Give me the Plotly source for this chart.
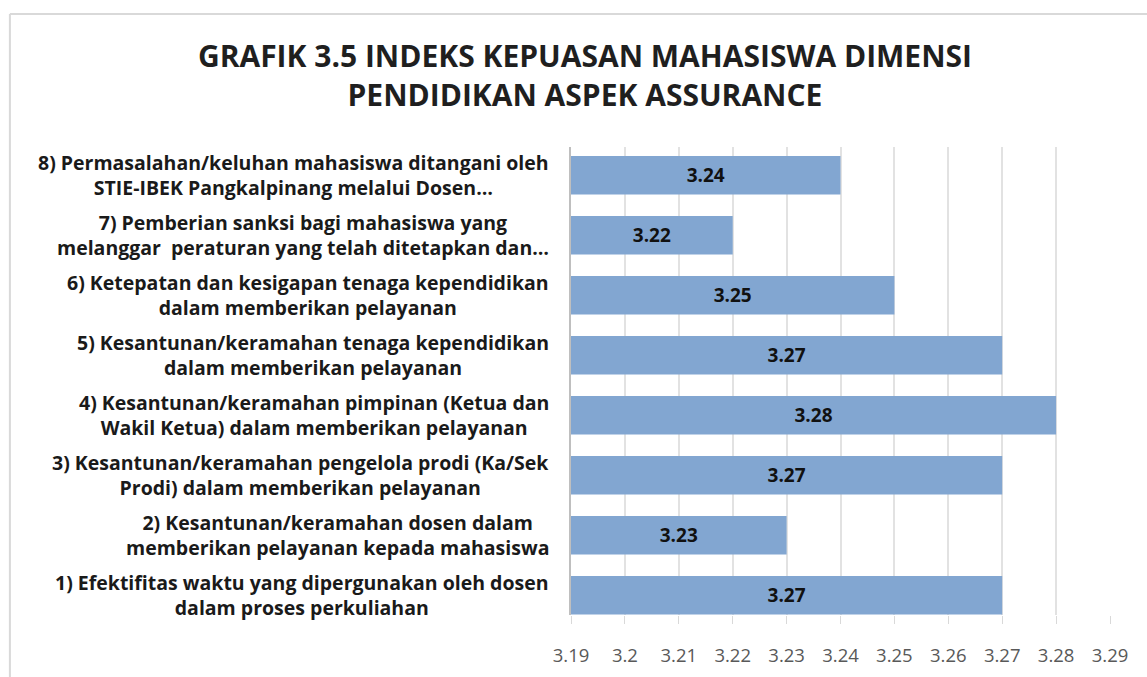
import plotly.graph_objects as go

categories = [
    "1) Efektifitas waktu yang dipergunakan oleh dosen<br>dalam proses perkuliahan",
    "2) Kesantunan/keramahan dosen dalam<br>memberikan pelayanan kepada mahasiswa",
    "3) Kesantunan/keramahan pengelola prodi (Ka/Sek<br>Prodi) dalam memberikan pelayanan",
    "4) Kesantunan/keramahan pimpinan (Ketua dan<br>Wakil Ketua) dalam memberikan pelayanan",
    "5) Kesantunan/keramahan tenaga kependidikan<br>dalam memberikan pelayanan",
    "6) Ketepatan dan kesigapan tenaga kependidikan<br>dalam memberikan pelayanan",
    "7) Pemberian sanksi bagi mahasiswa yang<br>melanggar  peraturan yang telah ditetapkan dan…",
    "8) Permasalahan/keluhan mahasiswa ditangani oleh<br>STIE-IBEK Pangkalpinang melalui Dosen…",
]
values = [3.27, 3.23, 3.27, 3.28, 3.27, 3.25, 3.22, 3.24]
x_ticks = [3.19, 3.20, 3.21, 3.22, 3.23, 3.24, 3.25, 3.26, 3.27, 3.28, 3.29]
x_tick_labels = ["3.19", "3.2", "3.21", "3.22", "3.23", "3.24", "3.25", "3.26", "3.27", "3.28", "3.29"]

title_text = "GRAFIK 3.5 INDEKS KEPUASAN MAHASISWA DIMENSI<br>PENDIDIKAN ASPEK ASSURANCE"

FONT = "Open Sans"
idx = list(range(len(categories)))

fig = go.Figure()
fig.add_trace(go.Bar(
    y=idx,
    x=[v - 3.19 for v in values],
    base=3.19,
    orientation="h",
    width=0.64,
    marker=dict(color="#82A6D1", line=dict(width=0)),
    text=[f"{v:.2f}" for v in values],
    textposition="inside",
    insidetextanchor="middle",
    textangle=0,
    constraintext="none",
    insidetextfont=dict(family=FONT, size=19, color="#111111", weight="bold"),
    hoverinfo="skip",
))

for i, c in zip(idx, categories):
    fig.add_annotation(
        x=0, xref="paper", y=i, yref="y",
        xanchor="right", yanchor="middle", xshift=-20,
        text=c, align="center", showarrow=False,
        font=dict(family=FONT, size=19.5, color="#1a1a1a", weight="bold"),
    )

# chart frame (decorative)
frame = dict(type="line", xref="paper", yref="paper", line=dict(color="#d9d9d9", width=2))
fig.add_shape(**frame, x0=-1.041, x1=-1.041, y0=-0.2, y1=1.284)
fig.add_shape(**frame, x0=-1.041, x1=1.2, y0=1.284, y1=1.284)

fig.update_layout(
    width=1147, height=677,
    margin=dict(l=571, r=37, t=147, b=62, autoexpand=False),
    paper_bgcolor="white", plot_bgcolor="white",
    showlegend=False,
    title=dict(
        text=title_text, x=0.51, xref="container", xanchor="center",
        y=0.901, yref="container", yanchor="top",
        font=dict(family=FONT, size=30, color="#1f1f1f", weight="bold"),
    ),
    xaxis=dict(
        range=[3.19, 3.29], tickvals=x_ticks, ticktext=x_tick_labels,
        showgrid=True, gridcolor="#e2e2e2", gridwidth=1.5,
        zeroline=False, showline=False, automargin=False,
        ticks="outside", ticklen=8, tickcolor="#d9d9d9",
        tickfont=dict(family=FONT, size=18.5, color="#595959"),
        ticklabelstandoff=16,
        layer="above traces",
    ),
    yaxis=dict(
        range=[-0.33, 7.47], showticklabels=False, showgrid=False,
        zeroline=False, showline=True, linecolor="#bfbfbf", linewidth=2,
        ticks="", automargin=False,
        layer="above traces",
    ),
)

fig.write_html("out.html", config={"displayModeBar": False},
               post_script="document.body.style.margin='0';")
